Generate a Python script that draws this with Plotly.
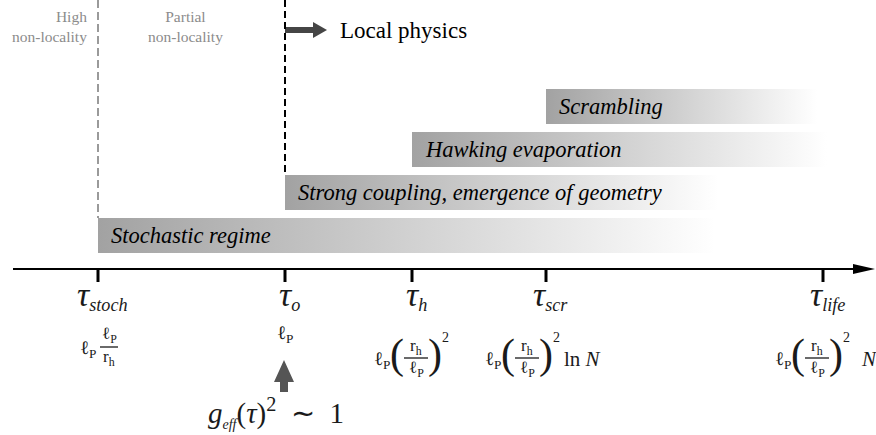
import plotly.graph_objects as go

# ---------------- data ----------------
tau_names = ["stoch", "o", "h", "scr", "life"]
tau_pos = [98, 285, 412, 546, 823]            # position of each time scale on the axis

regime_labels = ["Stochastic regime",
                 "Strong coupling, emergence of geometry",
                 "Hawking evaporation",
                 "Scrambling"]
regime_start = [0, 1, 2, 3]                   # index of the time scale where each regime starts
regime_end = [715, 718, 827, 817]             # where each regime band fades out

zone_labels = ["High<br>non-locality", "Partial<br>non-locality"]

frac_num = ["ℓ<sub>P</sub>", None, "r<sub>h</sub>", "r<sub>h</sub>", "r<sub>h</sub>"]
frac_den = ["r<sub>h</sub>", None, "ℓ<sub>P</sub>", "ℓ<sub>P</sub>", "ℓ<sub>P</sub>"]
frac_paren = [False, False, True, True, True]
frac_power = ["", "", "2", "2", "2"]
formula_suffix = ["", "", "", "ln <i>N</i>", "<i>N</i>"]

# ---------------- layout constants ----------------
W, H = 876, 435
AXIS_Y = 269
AXIS_X0, AXIS_X1, AXIS_TIP = 13, 853, 875
TICK_LEN = 13
ROW_BOTTOM = 253
ROW_H = 35
ROW_PITCH = 43
SERIF = "Liberation Serif, Times New Roman, serif"
MATH = "#1a1a1a"
formula_left_offset = [-20, 0, -40, -63, -50]
suffix_offset = [0, 0, 0, 79, 86]

fig = go.Figure()
annotations = []
shapes = []


def txt(x, y, text, size, color="black", xanchor="center", yanchor="middle", family=SERIF):
    annotations.append(dict(x=x, y=y, xref="x", yref="y", text=text, showarrow=False,
                            xanchor=xanchor, yanchor=yanchor,
                            font=dict(family=family, size=size, color=color)))


def poly(xs, ys, color):
    fig.add_trace(go.Scatter(x=xs + [xs[0]], y=ys + [ys[0]], mode="lines", fill="toself",
                             fillcolor=color, line=dict(width=0, color=color),
                             hoverinfo="skip", showlegend=False))


# ---- regime bands (horizontal gradient) ----
for i, lab in enumerate(regime_labels):
    x0 = tau_pos[regime_start[i]]
    x1 = regime_end[i]
    yb = ROW_BOTTOM - i * ROW_PITCH
    yt = yb - ROW_H
    fig.add_trace(go.Scatter(
        x=[x0, x1, x1, x0, x0], y=[yb, yb, yt, yt, yb], mode="lines", fill="toself",
        fillgradient=dict(type="horizontal", colorscale=[[0, "#a2a2a2"], [1, "#ffffff"]]),
        line=dict(width=0), hoverinfo="skip", showlegend=False))
    txt(x0 + 11, (yb + yt) / 2, "<i>" + lab + "</i>", 22.5, xanchor="left")

# ---- dashed separators ----
shapes.append(dict(type="line", xref="x", yref="y", x0=tau_pos[0], x1=tau_pos[0],
                   y0=0, y1=ROW_BOTTOM - ROW_H, line=dict(color="#9a9a9a", width=2, dash="8px,4px")))
shapes.append(dict(type="line", xref="x", yref="y", x0=tau_pos[1], x1=tau_pos[1],
                   y0=0, y1=ROW_BOTTOM - ROW_PITCH - ROW_H, line=dict(color="black", width=2, dash="7px,4px")))

# zone labels
txt(tau_pos[0] - 9, 26, zone_labels[0], 15.5, color="#8c8c8c", xanchor="right")
annotations[-1]["align"] = "right"
txt((tau_pos[0] + tau_pos[1]) / 2 - 6, 26, zone_labels[1], 15.5, color="#8c8c8c")

# local physics arrow
ax0 = tau_pos[1]
poly([ax0, ax0 + 28, ax0 + 28, ax0 + 42, ax0 + 28, ax0 + 28, ax0],
     [27, 27, 22, 30, 38, 33, 33], "#454545")
txt(ax0 + 53, 30, "Local physics", 23, xanchor="left")

# ---- time axis ----
shapes.append(dict(type="line", xref="x", yref="y", x0=AXIS_X0, x1=AXIS_X1 + 2, y0=AXIS_Y, y1=AXIS_Y,
                   line=dict(color="black", width=2)))
poly([AXIS_X1, AXIS_TIP, AXIS_X1], [AXIS_Y - 5, AXIS_Y, AXIS_Y + 5], "black")
for p in tau_pos:
    shapes.append(dict(type="line", xref="x", yref="y", x0=p, x1=p, y0=AXIS_Y, y1=AXIS_Y + TICK_LEN,
                       line=dict(color="black", width=3)))

# tick labels
for name, p in zip(tau_names, tau_pos):
    txt(p + 4, 295, "<span style='font-size:34px'><i>τ</i></span><sub><i>" + name + "</i></sub>", 26, color=MATH)

# formulas
for i, p in enumerate(tau_pos):
    L = p + formula_left_offset[i]
    if frac_num[i] is None:
        txt(p, 334, "ℓ<sub>P</sub>", 19, color=MATH)
        continue
    if not frac_paren[i]:
        y0 = 347
        txt(L, y0 + 2, "ℓ<sub>P</sub>", 19, color=MATH, xanchor="left")
        fc = L + 31
        txt(fc, y0 - 12, frac_num[i], 17, color=MATH)
        txt(fc, y0 + 11, frac_den[i], 17, color=MATH)
        shapes.append(dict(type="line", xref="x", yref="y", x0=fc - 9, x1=fc + 9, y0=y0, y1=y0,
                           line=dict(color=MATH, width=1.3)))
        continue
    y0 = 358
    txt(L, y0 + 2, "ℓ<sub>P</sub>", 19, color=MATH, xanchor="left")
    txt(L + 25, y0 - 4, "(", 42, color=MATH)
    fc = L + 44
    txt(fc, y0 - 11, frac_num[i], 17, color=MATH)
    txt(fc, y0 + 11, frac_den[i], 17, color=MATH)
    shapes.append(dict(type="line", xref="x", yref="y", x0=fc - 12, x1=fc + 12, y0=y0, y1=y0,
                       line=dict(color=MATH, width=1.3)))
    txt(L + 63, y0 - 4, ")", 42, color=MATH)
    txt(L + 73, y0 - 21, frac_power[i], 14, color=MATH)
    if formula_suffix[i]:
        txt(L + suffix_offset[i], y0 + 1, formula_suffix[i], 21, color=MATH, xanchor="left")

# g_eff arrow
gx = tau_pos[1] - 1
poly([gx - 4, gx + 4, gx + 4, gx + 10, gx, gx - 10, gx - 4],
     [392, 392, 382, 382, 360, 382, 382], "#555555")
txt(gx - 8, 412,
    "<i>g</i><sub><span style='font-size:14px'><i>eff</i></span></sub>(<i>τ</i>)<sup>2</sup>\u2002∼\u20021",
    29, color=MATH)

fig.update_layout(
    width=W, height=H, margin=dict(l=0, r=0, t=0, b=0),
    paper_bgcolor="white", plot_bgcolor="white",
    xaxis=dict(range=[0, W], visible=False, fixedrange=True),
    yaxis=dict(range=[H, 0], visible=False, fixedrange=True),
    annotations=annotations, shapes=shapes, showlegend=False,
)
fig.write_html("out.html", post_script="document.body.style.margin='0px';",
               config={"displayModeBar": False})
